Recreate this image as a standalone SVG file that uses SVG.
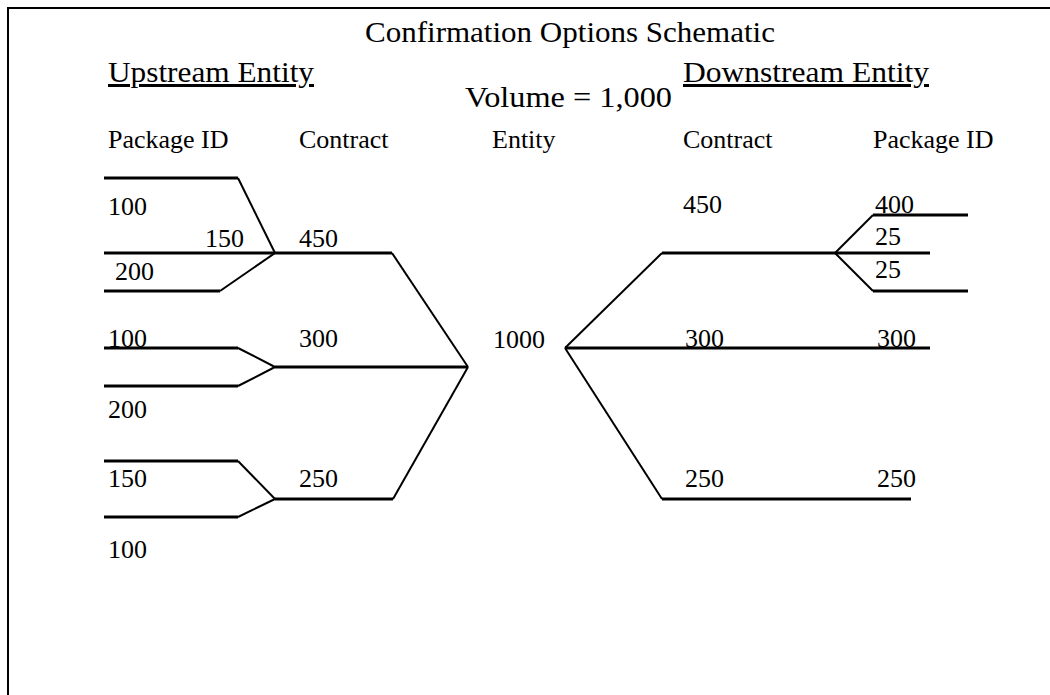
<svg xmlns="http://www.w3.org/2000/svg" width="1050" height="695" viewBox="0 0 1050 695">
<style>
text{font-family:"Liberation Serif","Times New Roman",serif;fill:#000}
.big{font-size:30px}
.sm{font-size:26px}
.u{text-decoration:underline}
.h{stroke:#000;stroke-width:3;fill:none}
.d{stroke:#000;stroke-width:2;fill:none}
</style>
<rect x="0" y="0" width="1050" height="695" fill="#fff"/>
<rect x="8" y="8" width="1060" height="710" fill="none" stroke="#000" stroke-width="2"/>
<g id="headers">
<text class="big" x="365" y="42" textLength="410" lengthAdjust="spacingAndGlyphs">Confirmation Options Schematic</text>
<text class="big u" x="108" y="82" textLength="206" lengthAdjust="spacingAndGlyphs">Upstream Entity</text>
<text class="big u" x="683" y="82" textLength="246" lengthAdjust="spacingAndGlyphs">Downstream Entity</text>
<text class="big" x="465" y="107" textLength="207" lengthAdjust="spacingAndGlyphs">Volume = 1,000</text>
<text class="sm" x="108" y="148">Package ID</text>
<text class="sm" x="299" y="148">Contract</text>
<text class="sm" x="492" y="148">Entity</text>
<text class="sm" x="683" y="148">Contract</text>
<text class="sm" x="873" y="148">Package ID</text>
</g>
<g id="upstream-packages">
<text class="sm" x="108" y="215">100</text>
<text class="sm" x="205" y="247">150</text>
<text class="sm" x="115" y="280">200</text>
<text class="sm" x="108" y="347">100</text>
<text class="sm" x="108" y="418">200</text>
<text class="sm" x="108" y="487">150</text>
<text class="sm" x="108" y="558">100</text>
</g>
<g id="upstream-contracts">
<text class="sm" x="299" y="247">450</text>
<text class="sm" x="299" y="347">300</text>
<text class="sm" x="299" y="487">250</text>
</g>
<g id="entity">
<text class="sm" x="493" y="348">1000</text>
</g>
<g id="downstream-contracts">
<text class="sm" x="683" y="213">450</text>
<text class="sm" x="685" y="347">300</text>
<text class="sm" x="685" y="487">250</text>
</g>
<g id="downstream-packages">
<text class="sm" x="875" y="213">400</text>
<text class="sm" x="875" y="245">25</text>
<text class="sm" x="875" y="278">25</text>
<text class="sm" x="877" y="347">300</text>
<text class="sm" x="877" y="487">250</text>
</g>
<g id="connectors">
<!-- upstream group 1 -->
<line class="h" x1="104" y1="178" x2="238" y2="178"/>
<line class="d" x1="238" y1="178" x2="275" y2="253"/>
<line class="h" x1="104" y1="253" x2="392" y2="253"/>
<line class="h" x1="104" y1="291" x2="220" y2="291"/>
<line class="d" x1="220" y1="291" x2="275" y2="253"/>
<!-- upstream group 2 -->
<line class="h" x1="104" y1="348" x2="238" y2="348"/>
<line class="d" x1="238" y1="348" x2="275" y2="367"/>
<line class="h" x1="104" y1="386" x2="238" y2="386"/>
<line class="d" x1="238" y1="386" x2="275" y2="367"/>
<line class="h" x1="275" y1="367" x2="468" y2="367"/>
<!-- upstream group 3 -->
<line class="h" x1="104" y1="461" x2="238" y2="461"/>
<line class="d" x1="238" y1="461" x2="275" y2="499"/>
<line class="h" x1="104" y1="517" x2="238" y2="517"/>
<line class="d" x1="238" y1="517" x2="275" y2="499"/>
<line class="h" x1="275" y1="499" x2="393" y2="499"/>
<!-- upstream to entity -->
<line class="d" x1="392" y1="253" x2="468" y2="367"/>
<line class="d" x1="393" y1="499" x2="468" y2="367"/>
<!-- entity to downstream -->
<line class="d" x1="565" y1="348" x2="662" y2="253"/>
<line class="h" x1="565" y1="348" x2="930" y2="348"/>
<line class="d" x1="565" y1="348" x2="662" y2="499"/>
<line class="h" x1="662" y1="253" x2="930" y2="253"/>
<line class="h" x1="662" y1="499" x2="911" y2="499"/>
<!-- downstream 450 split -->
<line class="d" x1="835" y1="253" x2="873" y2="215"/>
<line class="h" x1="873" y1="215" x2="968" y2="215"/>
<line class="d" x1="835" y1="253" x2="873" y2="291"/>
<line class="h" x1="873" y1="291" x2="968" y2="291"/>
</g>
</svg>
